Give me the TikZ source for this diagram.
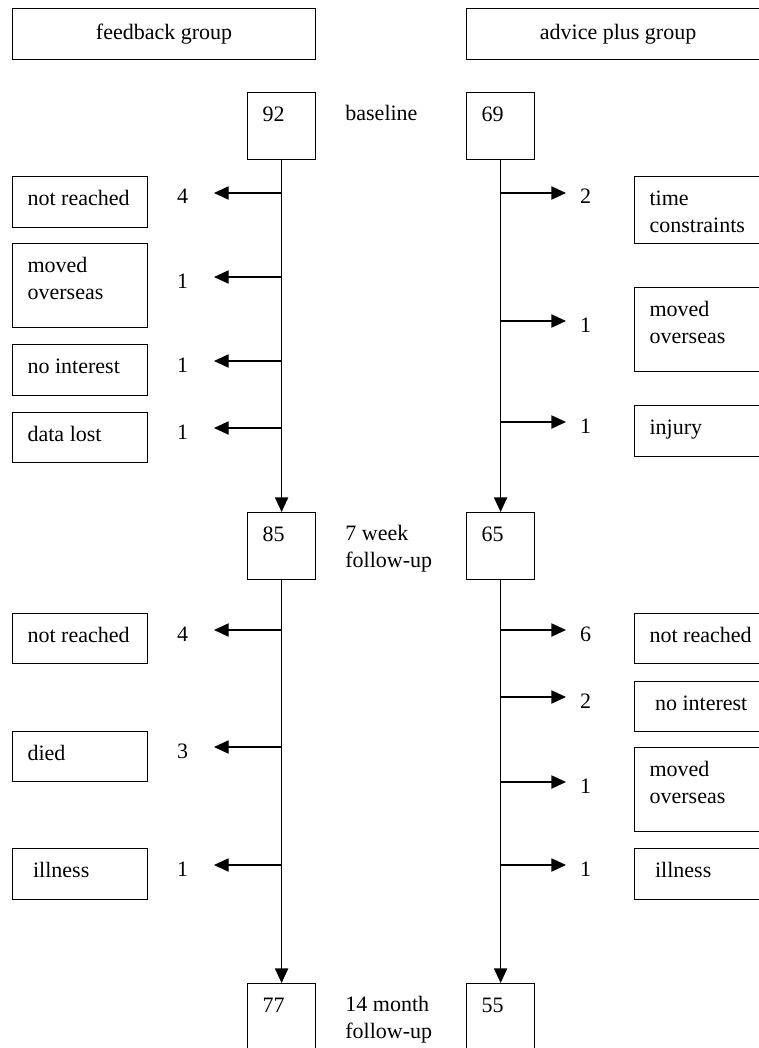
\documentclass[tikz,border=0pt]{standalone}
\usepackage{fontspec}
\setmainfont{Liberation Serif}
\usetikzlibrary{arrows.meta}

\begin{document}
\begin{tikzpicture}[
    x=0.5pt, y=-0.5pt,
    every node/.style={font=\fontsize{11}{13.5}\selectfont},
    grp/.style={
        rectangle,
        draw,
        line width=0.6pt,
        anchor=north west,
        minimum width=151.5pt,
        minimum height=25.5pt,
        inner sep=0pt
    },
    tbox/.style={
        rectangle,
        draw,
        line width=0.6pt,
        anchor=north west,
        align=flush left,
        inner xsep=7.5pt,
        inner ysep=0pt,
        text height=14.25pt,
        text depth=11.25pt
    },
    cnt/.style={tbox, text width=19pt, text depth=19.25pt},
    why/.style={tbox, text width=52.5pt},
    stage/.style={
        anchor=north west,
        align=flush left,
        text width=60pt,
        inner sep=0pt,
        text height=14.25pt
    },
    num/.style={anchor=base, inner sep=0pt},
    arrow/.style={
        -{Triangle[length=7.3pt,width=6.6pt]},
        line width=0.6pt
    }
]

\useasboundingbox (0,0) rectangle (759,1048);
\clip (0,0) rectangle (759,1048);

% Groups
\node[grp] (fbgrp) at (12,8) {feedback group};
\node[grp] (apgrp) at (466,8) {advice plus group};

% Counts at each time point
\node[cnt] (b92) at (247,92) {92};
\node[cnt] (b69) at (466,92) {69};
\node[cnt] (b85) at (247,512) {85};
\node[cnt] (b65) at (466,512) {65};
\node[cnt] (b77) at (247,983) {77};
\node[cnt] (b55) at (466,983) {55};

\node[stage] (s0) at (345,92) {baseline};
\node[stage] (s1) at (345,512) {7 week\\follow-up};
\node[stage] (s2) at (345,983) {14 month\\follow-up};

% Main flow
\draw[arrow] (b92.south) -- (b85.north);
\draw[arrow] (b85.south) -- (b77.north);
\draw[arrow] (b69.south) -- (b65.north);
\draw[arrow] (b65.south) -- (b55.north);

% Feedback group, baseline to 7 weeks
\node[why] (fa1) at (12,176) {not reached};
\node[why, text depth=27.75pt] (fa2) at (12,243) {moved\\overseas};
\node[why] (fa3) at (12,344) {no interest};
\node[why, text depth=10.75pt] (fa4) at (12,412) {data lost};
\node[num] (na1) at (182.5,204) {4};
\node[num] (na2) at (182.5,288) {1};
\node[num] (na3) at (182.5,372) {1};
\node[num] (na4) at (182.5,439) {1};
\coordinate (ta1) at (214,193);
\coordinate (ta2) at (214,277);
\coordinate (ta3) at (214,361);
\coordinate (ta4) at (214,428);
\draw[arrow] (b92 |- ta1) -- (ta1);
\draw[arrow] (b92 |- ta2) -- (ta2);
\draw[arrow] (b92 |- ta3) -- (ta3);
\draw[arrow] (b92 |- ta4) -- (ta4);

% Feedback group, 7 weeks to 14 months
\node[why, text depth=10.75pt] (fb1) at (12,613) {not reached};
\node[why, text depth=10.75pt] (fb2) at (12,731) {died};
\node[why] (fb3) at (12,848) {\ illness};
\node[num] (nb1) at (182.5,641) {4};
\node[num] (nb2) at (182.5,758) {3};
\node[num] (nb3) at (182.5,876) {1};
\coordinate (tb1) at (214,630);
\coordinate (tb2) at (214,747);
\coordinate (tb3) at (214,865);
\draw[arrow] (b85 |- tb1) -- (tb1);
\draw[arrow] (b85 |- tb2) -- (tb2);
\draw[arrow] (b85 |- tb3) -- (tb3);

% Advice plus group, baseline to 7 weeks
\node[why, text depth=19.25pt] (aa1) at (634,176) {time\\constraints};
\node[why, text depth=27.75pt] (aa2) at (634,287) {moved\\overseas};
\node[why] (aa3) at (634,405) {injury};
\node[num] (ma1) at (585.5,204) {2};
\node[num] (ma2) at (585.5,332) {1};
\node[num] (ma3) at (585.5,433) {1};
\coordinate (ua1) at (566,193);
\coordinate (ua2) at (566,321);
\coordinate (ua3) at (566,422);
\draw[arrow] (b69 |- ua1) -- (ua1);
\draw[arrow] (b69 |- ua2) -- (ua2);
\draw[arrow] (b69 |- ua3) -- (ua3);

% Advice plus group, 7 weeks to 14 months
\node[why, text depth=10.75pt] (ab1) at (634,613) {not reached};
\node[why, text depth=10.75pt] (ab2) at (634,681) {\ no interest};
\node[why, text depth=27.75pt] (ab3) at (634,747) {moved\\overseas};
\node[why] (ab4) at (634,848) {\ illness};
\node[num] (mb1) at (585.5,641) {6};
\node[num] (mb2) at (585.5,708) {2};
\node[num] (mb3) at (585.5,793) {1};
\node[num] (mb4) at (585.5,876) {1};
\coordinate (ub1) at (566,630);
\coordinate (ub2) at (566,697);
\coordinate (ub3) at (566,782);
\coordinate (ub4) at (566,865);
\draw[arrow] (b65 |- ub1) -- (ub1);
\draw[arrow] (b65 |- ub2) -- (ub2);
\draw[arrow] (b65 |- ub3) -- (ub3);
\draw[arrow] (b65 |- ub4) -- (ub4);

\end{tikzpicture}
\end{document}
